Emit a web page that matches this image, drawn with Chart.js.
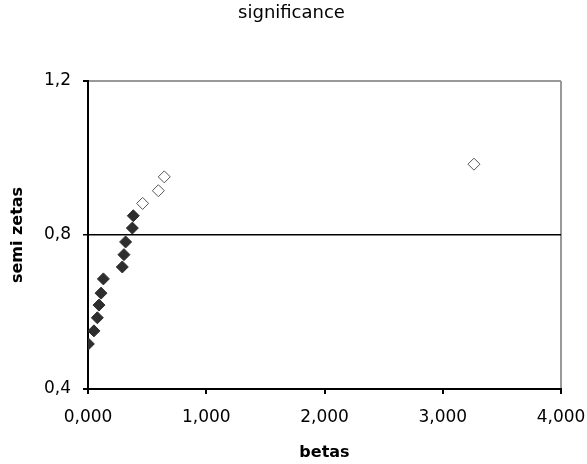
<!DOCTYPE html>
<html>
<head>
<meta charset="utf-8">
<script src="https://cdn.jsdelivr.net/npm/chart.js@4"></script>
<style>
  html, body { margin: 0; padding: 0; background: #fff; }
  #wrap { width: 587px; height: 464px; }
</style>
</head>
<body>
<div id="wrap"><canvas id="chart" width="587" height="464"></canvas></div>
<script>
// betas / semi zetas
const significantBetas = [0.003, 0.05, 0.079, 0.093, 0.11, 0.13, 0.29, 0.304, 0.318, 0.375, 0.383];
const significantZetas = [0.517, 0.551, 0.585, 0.618, 0.649, 0.686, 0.717, 0.749, 0.782, 0.818, 0.850];
const otherBetas = [0.462, 0.595, 0.645, 3.264];
const otherZetas = [0.882, 0.915, 0.951, 0.984];

const xTicks = [0, 1, 2, 3, 4];
const yTicks = [0.4, 0.8, 1.2];
const thresholdZeta = 0.8;

const toPoints = (xs, ys) => xs.map((x, i) => ({ x: x, y: ys[i] }));
const comma = (v, d) => v.toFixed(d).replace('.', ',');
const near = (a, b) => Math.abs(a - b) < 1e-9;

const font = 'DejaVu Sans, Verdana, sans-serif';
const ctx = document.getElementById('chart').getContext('2d');

const chart = new Chart(ctx, {
    type: 'scatter',
    data: {
        datasets: [{
            data: toPoints(significantBetas, significantZetas),
            pointStyle: 'rectRot',
            pointRadius: 6,
            backgroundColor: '#2e2e2e',
            borderColor: '#2e2e2e',
            borderWidth: 1
        }, {
            data: toPoints(otherBetas, otherZetas),
            pointStyle: 'rectRot',
            pointRadius: 6,
            backgroundColor: '#fff',
            borderColor: '#555',
            borderWidth: 1
        }]
    },
    options: {
        responsive: false,
        animation: false,
        layout: { padding: { left: 22, right: 26, top: 0, bottom: 0 } },
        plugins: {
            legend: { display: false },
            tooltip: { enabled: false },
            title: {
                display: true,
                text: 'significance',
                color: '#000',
                font: { family: font, size: 18, weight: 'normal' },
                padding: { top: 3, bottom: 56.4 }
            }
        },
        scales: {
            x: {
                type: 'linear',
                min: 0,
                max: 4,
                afterBuildTicks: s => { s.ticks = xTicks.map(v => ({ value: v })); },
                afterFit: s => { s.height = 75; s.paddingLeft = 0; s.paddingRight = 0; },
                ticks: {
                    color: '#000',
                    padding: 13,
                    maxRotation: 0,
                    font: { family: font, size: 17 },
                    callback: v => comma(v, 3)
                },
                grid: {
                    color: c => c.tick && near(c.tick.value, 4) ? '#999' : 'rgba(0,0,0,0)',
                    tickColor: '#000',
                    tickLength: 5,
                    lineWidth: 2
                },
                border: { color: '#000', width: 2 },
                title: {
                    display: true,
                    text: 'betas',
                    color: '#000',
                    font: { family: font, size: 16, weight: 'bold' },
                    padding: { top: 0, bottom: 2 }
                }
            },
            y: {
                type: 'linear',
                min: 0.4,
                max: 1.2,
                afterBuildTicks: s => { s.ticks = yTicks.map(v => ({ value: v })); },
                afterFit: s => { s.width = 66; s.paddingTop = 0; s.paddingBottom = 0; },
                ticks: {
                    color: '#000',
                    padding: 12,
                    font: { family: font, size: 17 },
                    callback: v => comma(v, 1)
                },
                grid: {
                    color: c => {
                        if (!c.tick) return 'rgba(0,0,0,0)';
                        if (near(c.tick.value, thresholdZeta)) return '#000';
                        if (near(c.tick.value, 1.2)) return '#999';
                        return 'rgba(0,0,0,0)';
                    },
                    tickColor: '#000',
                    tickLength: 5,
                    lineWidth: c => c.tick && near(c.tick.value, thresholdZeta) ? 1.5 : 2
                },
                border: { color: '#000', width: 2 },
                title: {
                    display: true,
                    text: 'semi zetas',
                    color: '#000',
                    font: { family: font, size: 16, weight: 'bold' },
                    padding: { top: -13.6, bottom: 0 }
                }
            }
        }
    }
});
</script>
</body>
</html>
